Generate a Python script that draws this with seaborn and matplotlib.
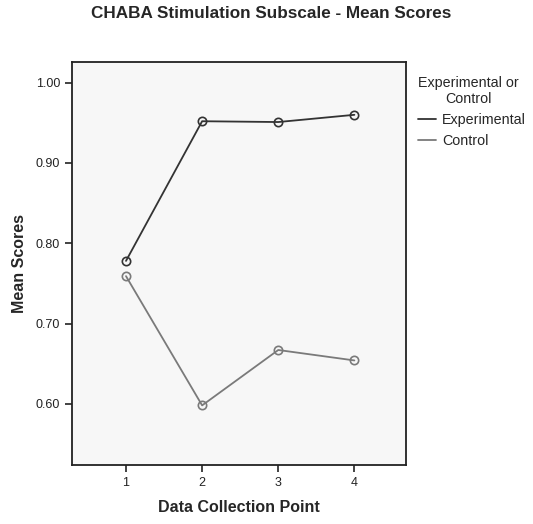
import matplotlib
matplotlib.use('Agg')
import matplotlib.pyplot as plt
from matplotlib.lines import Line2D
import seaborn as sns
import pandas as pd

sns.set_style('white')
plt.rcParams['font.family'] = ['Liberation Sans', 'DejaVu Sans']

# data
points = [1, 2, 3, 4]
experimental = [0.778, 0.952, 0.951, 0.960]
control = [0.759, 0.598, 0.667, 0.654]
groups = ['Experimental', 'Control']
colours = {'Experimental': '#333333', 'Control': '#7a7a7a'}

df = pd.DataFrame({
    'point': points * 2,
    'score': experimental + control,
    'group': [groups[0]] * 4 + [groups[1]] * 4,
})

fig = plt.figure(figsize=(5.33, 5.24), dpi=100)
ax = fig.add_axes([0.135, 0.113, 0.627, 0.769])
ax.set_facecolor('#f7f7f7')

sns.lineplot(data=df, x='point', y='score', hue='group', palette=colours,
             marker='o', markersize=6, markerfacecolor='none',
             markeredgewidth=1.2, linewidth=1.3, legend=False, ax=ax)
for line, g in zip(ax.lines, groups):
    line.set_markeredgecolor(colours[g])

ax.set_xlim(0.29, 4.68)
ax.set_ylim(0.524, 1.026)
ax.set_xticks(points)
ax.set_yticks([0.6, 0.7, 0.8, 0.9, 1.0])
ax.set_yticklabels(['0.60', '0.70', '0.80', '0.90', '1.00'])
ax.tick_params(axis='both', direction='out', length=5, width=1.2, labelsize=9,
               left=True, bottom=True, color='#222222', labelcolor='#222222')
for s in ax.spines.values():
    s.set_color('#222222')
    s.set_linewidth(1.3)

ax.set_xlabel('Data Collection Point', fontsize=11.5, fontweight='bold', labelpad=8)
ax.set_ylabel('Mean Scores', fontsize=11.5, fontweight='bold', labelpad=6)
fig.suptitle('CHABA Stimulation Subscale - Mean Scores', fontsize=12.3,
             fontweight='bold', x=0.508, y=0.988)

# legend sits just right of the plot box
handles = [Line2D([], [], color=colours[g], linewidth=1.3) for g in groups]
leg = ax.legend(handles, groups, title='Experimental or\nControl', frameon=False,
                loc='upper left', bbox_to_anchor=(1.035, 0.965), fontsize=10.3,
                title_fontsize=10.3, handlelength=1.3, handletextpad=0.4,
                borderaxespad=0, borderpad=0, labelspacing=0.5)
leg.get_title().set_multialignment('center')
leg._legend_box.align = 'left'

fig.savefig('out.png', dpi=100)
